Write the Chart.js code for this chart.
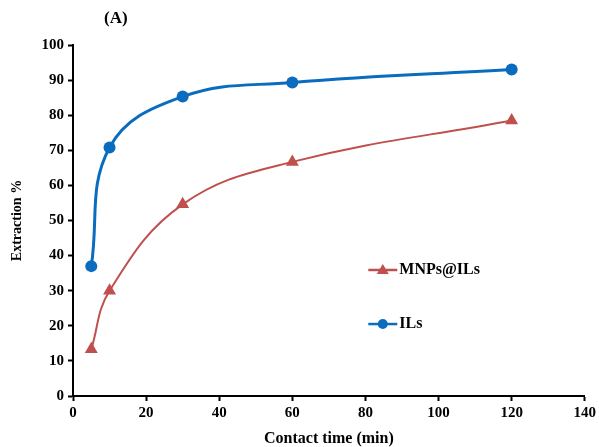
<!DOCTYPE html>
<html>
<head>
<meta charset="utf-8">
<script src="https://cdn.jsdelivr.net/npm/chart.js@4/dist/chart.umd.min.js"></script>
<style>
  html, body { margin: 0; padding: 0; background: #fff; }
  #wrap { width: 599px; height: 447px; }
</style>
</head>
<body>
<div id="wrap"><canvas id="c" width="599" height="447"></canvas></div>
<script>
'use strict';

// data
const times = [5, 10, 30, 60, 120];
const ils = [37, 70.8, 85.3, 89.3, 93];
const mnps = [13.3, 30, 54.6, 66.7, 78.5];
const xTicks = [0, 20, 40, 60, 80, 100, 120, 140];
const yTicks = [0, 10, 20, 30, 40, 50, 60, 70, 80, 90, 100];

const FONT = '"Liberation Serif", "Times New Roman", serif';
const BLUE = '#0a6cbf';
const RED = '#c0504d';

const pts = (ys) => times.map((t, i) => ({ x: t, y: ys[i] }));

// title "(A)" + in-plot legend
const extras = {
  id: 'extras',
  afterDraw(chart) {
    const { ctx, chartArea: a } = chart;
    ctx.save();
    ctx.fillStyle = '#000';
    ctx.font = `bold 17px ${FONT}`;
    ctx.textBaseline = 'middle';
    ctx.fillText('(A)', 104, 19);

    const items = [
      { label: 'MNPs@ILs', color: RED, style: 'triangle', fy: 0.359 },
      { label: 'ILs', color: BLUE, style: 'circle', fy: 0.205 },
    ];
    const x0 = a.left + (a.right - a.left) * 0.577;
    items.forEach((it) => {
      const y = a.bottom - (a.bottom - a.top) * it.fy;
      ctx.strokeStyle = it.color; ctx.lineWidth = 2.5;
      ctx.beginPath(); ctx.moveTo(x0, y); ctx.lineTo(x0 + 29, y); ctx.stroke();
      ctx.fillStyle = it.color;
      ctx.beginPath();
      if (it.style === 'circle') ctx.arc(x0 + 14.5, y, 5, 0, Math.PI * 2);
      else { ctx.moveTo(x0 + 14.5, y - 6); ctx.lineTo(x0 + 20.5, y + 4); ctx.lineTo(x0 + 8.5, y + 4); ctx.closePath(); }
      ctx.fill();
      ctx.fillStyle = '#000';
      ctx.font = `bold 16px ${FONT}`;
      ctx.fillText(it.label, x0 + 31, y);
    });
    ctx.restore();
  },
};

const axisFont = { family: FONT, size: 15, weight: 'bold' };

new Chart(document.getElementById('c'), {
  type: 'scatter',
  data: {
    datasets: [
      {
        label: 'MNPs@ILs', data: pts(mnps), showLine: true, tension: 0.4,
        borderColor: RED, backgroundColor: RED, borderWidth: 2,
        pointStyle: 'triangle', pointRadius: 7.5, pointBorderWidth: 0, pointHoverRadius: 7.5,
      },
      {
        label: 'ILs', data: pts(ils), showLine: true, tension: 0.4,
        borderColor: BLUE, backgroundColor: BLUE, borderWidth: 3,
        pointStyle: 'circle', pointRadius: 6, pointBorderWidth: 0, pointHoverRadius: 6,
      },
    ],
  },
  options: {
    responsive: false, animation: false,
    layout: { padding: { top: 45, right: 14, left: 0, bottom: 0 } },
    plugins: { legend: { display: false }, tooltip: { enabled: false } },
    scales: {
      x: {
        type: 'linear', min: 0, max: 140,
        afterBuildTicks: (s) => { s.ticks = xTicks.map((v) => ({ value: v })); },
        afterFit: (s) => { s.height = 51; },
        border: { color: '#000', width: 2 },
        grid: { drawOnChartArea: false, drawTicks: true, tickLength: 5, tickColor: '#000', tickWidth: 2 },
        ticks: { color: '#000', font: axisFont, padding: 3, maxRotation: 0 },
        title: { display: true, text: 'Contact time (min)', color: '#000',
                 font: { family: FONT, size: 16, weight: 'bold' }, padding: { top: 4, bottom: -1 } },
      },
      y: {
        type: 'linear', min: 0, max: 100,
        afterBuildTicks: (s) => { s.ticks = yTicks.map((v) => ({ value: v })); },
        afterFit: (s) => { s.width = 73; },
        border: { color: '#000', width: 2 },
        grid: { drawOnChartArea: false, drawTicks: true, tickLength: 5, tickColor: '#000', tickWidth: 2 },
        ticks: { color: '#000', font: axisFont, padding: 4 },
        title: { display: true, text: 'Extraction %', color: '#000',
                 font: { family: FONT, size: 14, weight: 'bold' }, padding: { top: 9, bottom: 6 } },
      },
    },
  },
  plugins: [extras],
});
</script>
</body>
</html>
